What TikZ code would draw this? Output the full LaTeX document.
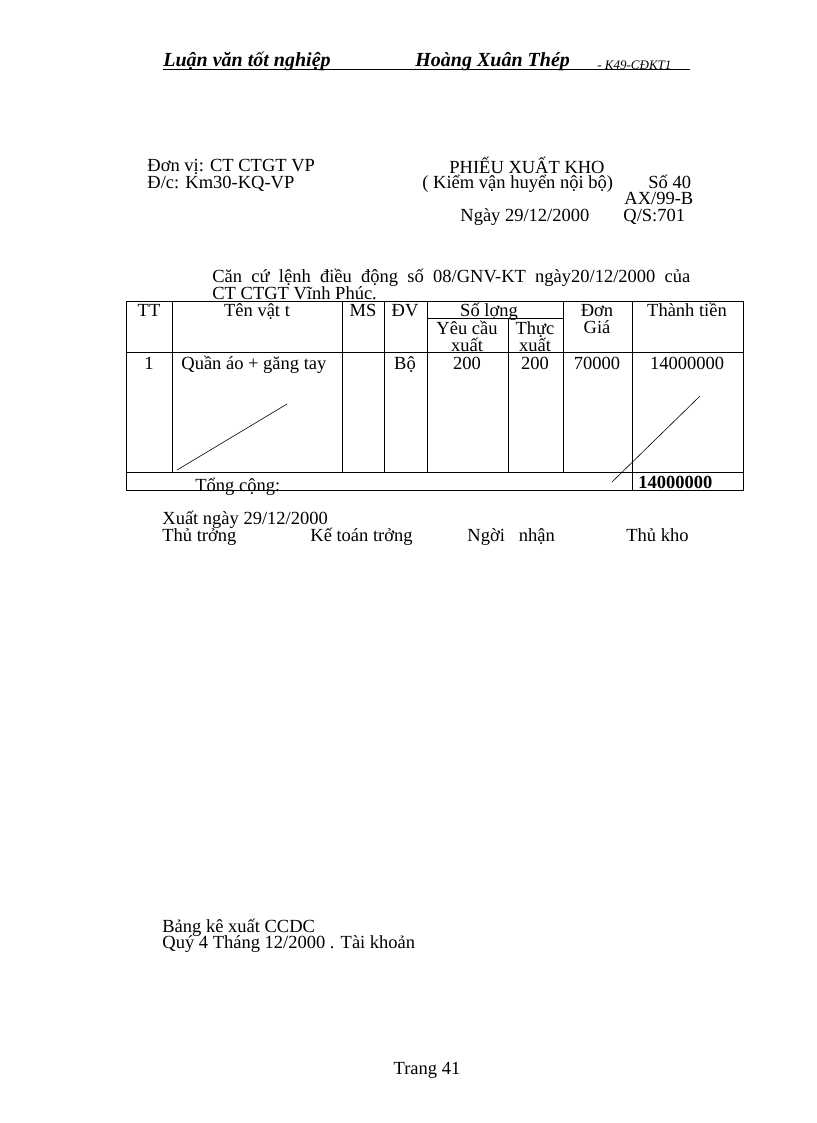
\documentclass[tikz,border=0pt]{standalone}
\usepackage{fontspec}
\setmainfont{Liberation Serif}
\begin{document}
\begin{tikzpicture}[x=1pt,y=-1pt,line width=0.8pt,
 t/.style={inner sep=0pt,font=\fontsize{18.5}{18.5}\selectfont},
 tl/.style={t,anchor=base west},
 tc/.style={t,anchor=base}]
\useasboundingbox (0,0) rectangle (816,1123);
\node[tl,font=\fontsize{20}{20}\selectfont\bfseries\itshape] (h1) at (163,67) {Luận văn tốt nghiệp};
\node[tl,font=\fontsize{20}{20}\selectfont\bfseries\itshape] (h2) at (415,67) {Hoàng Xuân Thép};
\node[tl,font=\fontsize{13}{13}\selectfont\itshape] (h3) at (597,70) {- K49-CĐKT1};
\draw[line width=0.6pt] (163,69) -- (690,69);
\node[tl] (a1) at (147,172) {Đơn vị: CT CTGT VP};
\node[tl] (a2) at (147,189) {Đ/c: Km30-KQ-VP};
\node[tc] (b1) at (527,174) {PHIẾU XUẤT KHO};
\node[tl] (b2) at (422,189) {( Kiểm vận huyển nội bộ)};
\node[tl] (b3) at (648,189) {Số 40};
\node[tl] (b4) at (624,205) {AX/99-B};
\node[tl] (b5) at (460,222) {Ngày 29/12/2000};
\node[tl] (b6) at (623,222) {Q/S:701};
\node[tl] (c1) at (212,282) {\makebox[478pt][s]{Căn cứ lệnh điều động số 08/GNV-KT ngày20/12/2000 của}};
\node[tl] (c2) at (212,299) {CT CTGT Vĩnh Phúc.};
% table
\draw (126,301) rectangle (743,490);
\draw (126,352) -- (743,352);
\draw (126,472) -- (743,472);
\foreach \x in {172,342,384,427,563,632} \draw (\x,301) -- (\x,472);
\draw (632,472) -- (632,490);
\draw (427,318) -- (563,318);
\draw (508,318) -- (508,472);
\node[tc] (k1) at (149,316) {TT};
\node[tc] (k2) at (257,316) {Tên vật t};
\node[tc] (k3) at (363,316) {MS};
\node[tc] (k4) at (405,316) {ĐV};
\node[tc] (k5) at (489,316) {Số lợng};
\node[tc] (k6) at (467,334) {Yêu cầu};
\node[tc] (k7) at (467,351) {xuất};
\node[tc] (k8) at (535,334) {Thực};
\node[tc] (k9) at (535,351) {xuất};
\node[tc] (k10) at (597,316) {Đơn};
\node[tc] (k11) at (597,333) {Giá};
\node[tc] (k12) at (687,316) {Thành tiền};
\node[tc] (r1) at (149,369) {1};
\node[tl] (r2) at (181,369) {Quần áo + găng tay};
\node[tc] (r3) at (405,369) {Bộ};
\node[tc] (r4) at (467,369) {200};
\node[tc] (r5) at (535,369) {200};
\node[tc] (r6) at (597,369) {70000};
\node[tc] (r7) at (687,369) {14000000};
\node[tl] (s1) at (195,491) {Tổng cộng:};
\node[tl,font=\fontsize{18.5}{18.5}\selectfont\bfseries] (s2) at (638,488) {14000000};
\draw[line width=0.6pt] (177,470) -- (287,404);
\draw[line width=0.6pt] (612,482) -- (700,396);
\node[tl] (d1) at (162,524) {Xuất ngày 29/12/2000};
\node[tl] (d2) at (162,541) {Thủ trởng};
\node[tl] (d3) at (310,541) {Kế toán trởng};
\node[tl] (d4) at (467,541) {Ngời\ \ \ nhận};
\node[tl] (d5) at (626,541) {Thủ kho};
\node[tl] (e1) at (162,932) {Bảng kê xuất CCDC};
\node[tl] (e2) at (162,948) {Quý 4 Tháng 12/2000 . Tài khoản};
\node[tc] (f1) at (427,1074) {Trang 41};
\end{tikzpicture}
\end{document}
